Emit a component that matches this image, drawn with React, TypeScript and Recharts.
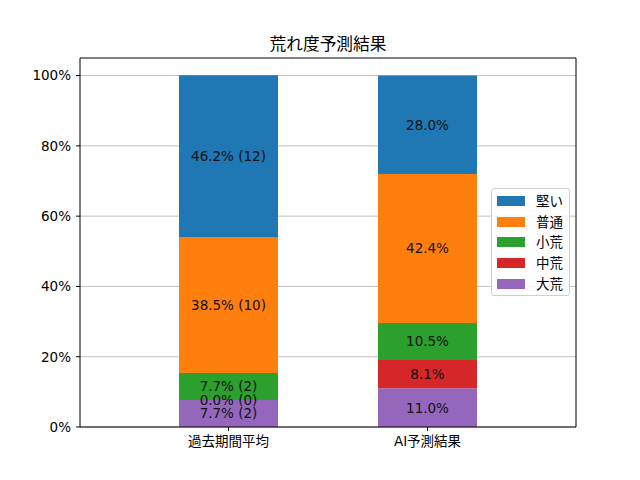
import { BarChart, Bar, XAxis, YAxis, CartesianGrid, ReferenceDot } from 'recharts';

// ─── Data ────────────────────────────────────────────────────────────────────
const categories = ['過去期間平均', 'AI予測結果'];
// stacking order, bottom to top
const seriesNames = ['大荒', '中荒', '小荒', '普通', '堅い'];
const seriesColors = ['#9467bd', '#d62728', '#2ca02c', '#ff7f0e', '#1f77b4'];
const pastValues = [7.7, 0.0, 7.7, 38.5, 46.2];
const aiValues = [11.0, 8.1, 10.5, 42.4, 28.0];
const pastCounts = [2, 0, 2, 10, 12];
const yTicks = [0, 20, 40, 60, 80, 100];

const title = '荒れ度予測結果';
const FONT = '"DejaVu Sans", "Noto Sans CJK JP", sans-serif';
const FS = 13.5;

const valuesByCat = [pastValues, aiValues];

const chartData = categories.map((name, ci) => {
  const row: Record<string, any> = { name };
  seriesNames.forEach((s, si) => {
    row[s] = valuesByCat[ci][si];
  });
  return row;
});

// segment labels, placed at the middle of each stacked segment (zero segments too)
const segmentLabels = categories.flatMap((cat, ci) => {
  let base = 0;
  return seriesNames.map((_, si) => {
    const v = valuesByCat[ci][si];
    const mid = base + v / 2;
    base += v;
    const text = ci === 0 ? `${v.toFixed(1)}% (${pastCounts[si]})` : `${v.toFixed(1)}%`;
    return { cat, mid, text };
  });
});

// ─── Legend ──────────────────────────────────────────────────────────────────
function ChartLegend() {
  const order = seriesNames.map((_, i) => i).reverse();
  return (
    <div
      style={{
        position: 'absolute',
        left: 491,
        top: 188,
        width: 77,
        height: 106,
        border: '1px solid #d0d0d0',
        borderRadius: 3,
        background: 'rgba(255,255,255,0.8)',
        fontFamily: FONT,
        fontSize: FS,
        boxSizing: 'content-box',
      }}
    >
      {order.map((si, k) => (
        <div key={seriesNames[si]} style={{ position: 'absolute', left: 0, top: 2 + k * 20.7, height: 20, display: 'flex', alignItems: 'center' }}>
          <span style={{ display: 'inline-block', width: 28, height: 10, marginLeft: 5, background: seriesColors[si] }} />
          <span style={{ marginLeft: 11, color: '#000', lineHeight: '20px' }}>{seriesNames[si]}</span>
        </div>
      ))}
    </div>
  );
}

export default function App() {
  return (
    <div style={{ position: 'absolute', left: 0, top: 0, width: 640, height: 480, background: '#fff' }}>
      <div
        style={{
          position: 'absolute',
          left: 80,
          width: 496,
          top: 33,
          textAlign: 'center',
          fontFamily: FONT,
          fontSize: 16.7,
          lineHeight: '22px',
          color: '#000',
        }}
      >
        {title}
      </div>
      <BarChart width={640} height={480} data={chartData} margin={{ top: 57, right: 63, bottom: 23, left: 0 }}>
        <CartesianGrid stroke="#b0b0b0" strokeWidth={0.8} vertical={false} horizontalValues={yTicks} />
        <XAxis
          dataKey="name"
          height={30}
          padding={{ left: 49, right: 49 }}
          axisLine={{ stroke: '#000', strokeWidth: 1 }}
          tickLine={{ stroke: '#000' }}
          tickSize={4}
          tickMargin={5}
          tick={{ fill: '#000', fontSize: FS, fontFamily: FONT }}
        />
        <XAxis
          xAxisId="top"
          dataKey="name"
          orientation="top"
          height={1}
          padding={{ left: 49, right: 49 }}
          tick={false}
          tickLine={false}
          axisLine={{ stroke: '#000', strokeWidth: 1 }}
        />
        <YAxis
          domain={[0, 105]}
          ticks={yTicks}
          width={80}
          allowDataOverflow
          axisLine={{ stroke: '#000', strokeWidth: 1 }}
          tickLine={{ stroke: '#000' }}
          tickSize={4}
          tickMargin={5}
          tickFormatter={(v) => `${v}%`}
          tick={{ fill: '#000', fontSize: FS, fontFamily: FONT }}
        />
        <YAxis
          yAxisId="right"
          orientation="right"
          width={1}
          domain={[0, 105]}
          tick={false}
          tickLine={false}
          axisLine={{ stroke: '#000', strokeWidth: 1 }}
        />
        {seriesNames.map((s, si) => (
          <Bar key={s} dataKey={s} stackId="a" fill={seriesColors[si]} barSize={99} isAnimationActive={false} />
        ))}
        {segmentLabels.map((l, i) => (
          <ReferenceDot
            key={`lbl-${i}`}
            x={l.cat}
            y={l.mid}
            r={0}
            shape={(p: any) => (
              <text x={p.cx} y={p.cy} fill="#111" fontSize={FS} fontFamily={FONT} textAnchor="middle" dominantBaseline="central">
                {l.text}
              </text>
            )}
          />
        ))}
      </BarChart>
      <ChartLegend />
    </div>
  );
}
